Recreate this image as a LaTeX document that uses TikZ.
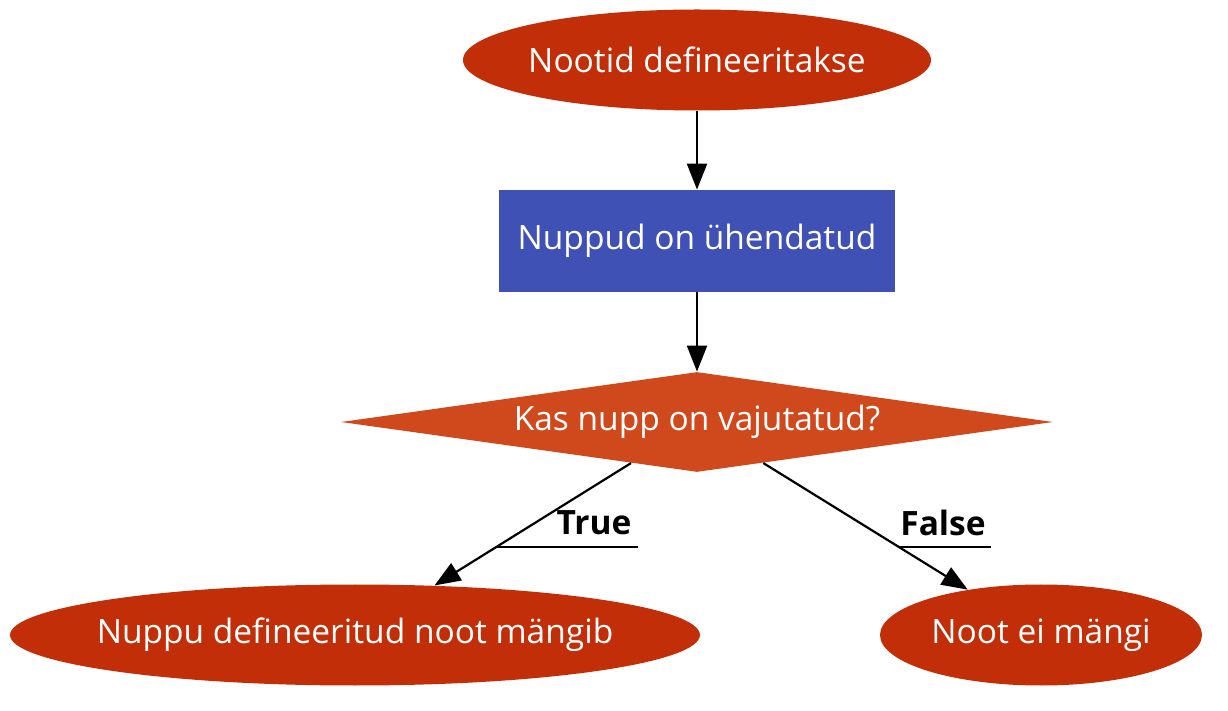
\documentclass[tikz,border=0pt]{standalone}
\usepackage{fontspec}
\setmainfont{Open Sans}
\usetikzlibrary{shapes.geometric,arrows.meta}
\definecolor{ellred}{HTML}{C22E07}
\definecolor{diared}{HTML}{D0491C}
\definecolor{rectblue}{HTML}{3F51B5}
\newcommand{\zw}[1]{\makebox[0pt]{#1}}
\tikzset{
  base/.style={inner sep=0pt, text=white, font=\fontsize{16.75}{20}\selectfont},
  term/.style={base, ellipse, fill=ellred, minimum height=50.5pt},
  proc/.style={base, rectangle, fill=rectblue, minimum width=198pt, minimum height=51pt},
  deci/.style={base, diamond, aspect=7.12, fill=diared, minimum width=356pt, minimum height=50pt},
  arr/.style={line width=1.1pt, -{Triangle[length=13pt,width=10pt]}},
  lbl/.style={font=\bfseries\fontsize{16.75}{20}\selectfont, inner sep=0pt},
  uline/.style={line width=1.1pt}
}
\begin{document}
\begin{tikzpicture}[x=0.5pt,y=-0.5pt]
\useasboundingbox (0,0) rectangle (1228,711);
\node[term, minimum width=234pt] (a) at (697,60) {\zw{Nootid defineeritakse}};
\node[proc] (b) at (697,241) {Nuppud on ühendatud};
\node[deci] (c) at (697,422) {Kas nupp on vajutatud?};
\node[term, minimum width=345pt] (d) at (355,635) {\zw{Nuppu defineeritud noot mängib}};
\node[term, minimum width=161pt] (e) at (1041,635) {\zw{Noot ei mängi}};
\draw[arr] (a) -- (b);
\draw[arr] (b) -- (c);
\draw[arr] (c) -- (d);
\draw[arr] (c) -- (e);
\node[lbl] (t) at (594,523) {True};
\node[lbl] (f) at (943,523) {False};
\coordinate (t1) at (497,547);
\coordinate (t2) at (638,547);
\coordinate (f1) at (900,547);
\coordinate (f2) at (991,547);
\draw[uline] (t1) -- (t2);
\draw[uline] (f1) -- (f2);
\end{tikzpicture}
\end{document}
